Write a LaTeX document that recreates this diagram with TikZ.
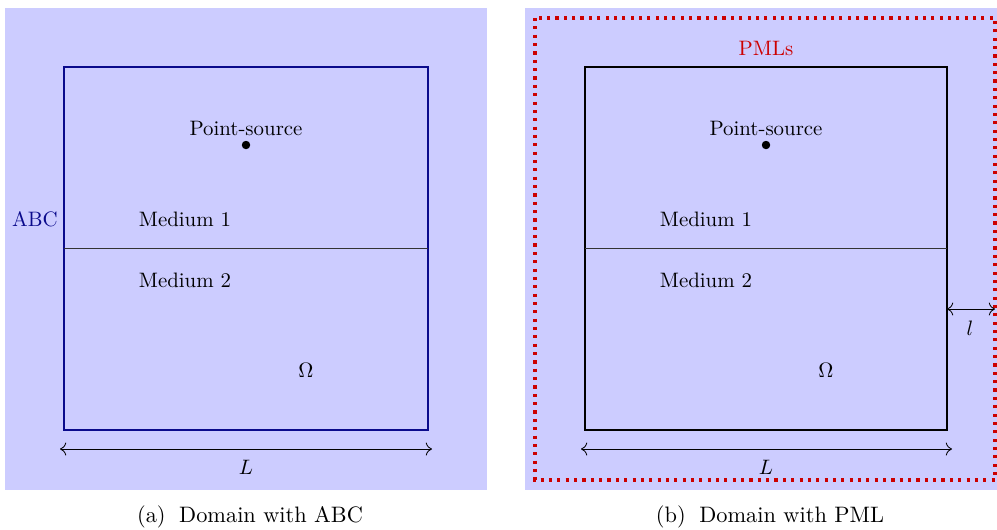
\documentclass[tikz,border=0pt]{standalone}
\usepackage{amsmath}
\usetikzlibrary{arrows.meta}

\definecolor{domainbg}{RGB}{204,204,255}
\definecolor{abcblue}{RGB}{10,10,140}
\definecolor{pmlred}{RGB}{204,0,0}

\begin{document}
\begin{tikzpicture}[x=0.479pt,y=-0.479pt,
    bgbox/.style={fill=domainbg, draw=none},
    medlabel/.style={inner sep=1pt},
    dimarrow/.style={{To[scale=1.2]}-{To[scale=1.2]}, thin},
    domainbox/.style={line width=1.1pt},
    caplabel/.style={scale=1.07},
  ]
        \useasboundingbox (0,0) rectangle (997,529);

        % left: domain with ABC
        \fill[domainbg] (5,8) rectangle (487,490);
        \draw[domainbox, abcblue] (64,67) rectangle (428,430);
        \draw[black!80] (64,248) -- (428,248); % interface
        \node[abcblue] (abc) at (35,219) {ABC};
        \node[medlabel] (mediumA1) at (185,219) {Medium 1};
        \node[medlabel] (mediumA2) at (185,280) {Medium 2};
        \node (srcA) at (246,128) {Point-source};
        \filldraw (246,145) circle (1.8pt); % source A
        \node (omegaA) at (306,370) {$\Omega$};
        \coordinate (LAleft) at (60,449);
        \coordinate (LAright) at (432,449);
        \draw[dimarrow] (LAleft) -- (LAright);
        \node (LA) at (246,467) {$L$};
        \node[caplabel] (capA) at (250,517) {(a)\; Domain with ABC};

        % right: domain with PML
        \fill[domainbg] (525,8) rectangle (997,490);
        \draw[pmlred, line width=1.5pt, dash pattern=on 1.5pt off 2.5pt] (535,18) rectangle (995,480);
        \node[pmlred] (pml) at (766,48) {PMLs};
        \draw[domainbox] (585,67) rectangle (947,430);
        \draw[black!80] (585,248) -- (947,248); % interface
        \node[medlabel] (mediumB1) at (706,219) {Medium 1};
        \node[medlabel] (mediumB2) at (706,280) {Medium 2};
        \node (srcB) at (766,128) {Point-source};
        \filldraw (766,145) circle (1.8pt); % source B
        \node (omegaB) at (826,370) {$\Omega$};
        \coordinate (LBleft) at (581,449);
        \coordinate (LBright) at (952,449);
        \draw[dimarrow] (LBleft) -- (LBright);
        \node (LB) at (766,467) {$L$};
        \coordinate (lleft) at (947,309);
        \coordinate (lright) at (995,309);
        \draw[dimarrow] (lleft) -- (lright);
        \node (lB) at (970,328) {$l$};
        \node[caplabel] (capB) at (770,517) {(b)\; Domain with PML};

\end{tikzpicture}
\end{document}
